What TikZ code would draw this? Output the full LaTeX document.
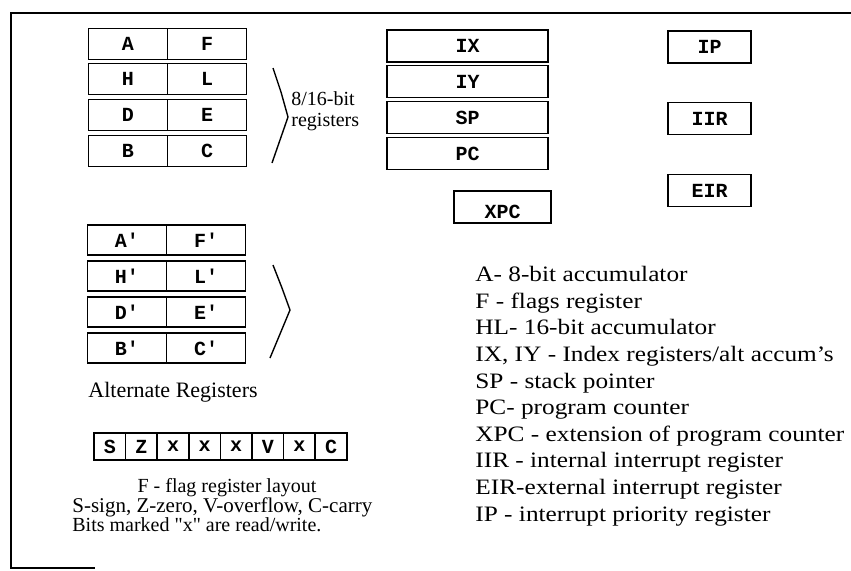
\documentclass[tikz,border=0pt]{standalone}
\usepackage{fontspec}
\setmainfont{Liberation Serif}
\setmonofont{Liberation Mono}
\newfontfamily\scanfont[FakeStretch=1.15]{Liberation Serif}
\newfontfamily\plainfont{Liberation Serif}
\usetikzlibrary{positioning}

\begin{document}
\begin{tikzpicture}[x=0.5pt,y=-0.5pt,
  reg/.style={draw,line width=0.8pt,inner sep=0pt,font=\fontsize{10}{11}\selectfont\ttfamily\bfseries},
  pair/.style={reg,minimum width=39.5pt,minimum height=15.5pt},
  wide/.style={reg,minimum width=80.5pt,minimum height=16pt},
  small/.style={reg,minimum width=41.5pt,minimum height=16pt},
  bit/.style={reg,minimum width=15.8pt,minimum height=13.5pt},
  txt/.style={inner sep=0pt,font=\fontsize{11}{13.3}\selectfont}]
\useasboundingbox (0,0) rectangle (851,570);
% frame
\draw[line width=0.8pt] (851,13) -- (11,13) -- (11,568) -- (95,568);

% main registers
\node[pair] (a) at (128,44) {A};
\node[pair] (f) at (207,44) {F};
\node[pair] (h) at (128,79) {H};
\node[pair] (l) at (207,79) {L};
\node[pair] (d) at (128,115) {D};
\node[pair] (e) at (207,115) {E};
\node[pair] (b) at (128,151) {B};
\node[pair] (c) at (207,151) {C};
\draw[line width=0.7pt] (273,68) -- (281,92) -- (288,117) -- (280,140) -- (272,163);
\node[txt,anchor=west,align=left,font=\fontsize{10}{10.5}\selectfont] (main) at (291,111) {8/16-bit\\registers};

% index and pointer registers
\node[wide] (ix) at (467.5,46) {IX};
\node[wide] (iy) at (467.5,81.5) {IY};
\node[wide] (sp) at (467.5,117.5) {SP};
\node[wide] (pc) at (467.5,153.5) {PC};
\node[reg,minimum width=48.5pt,minimum height=16pt,label={[reg,draw=none,anchor=south,inner sep=2pt]south:XPC}] (xpc) at (502.5,207) {};

% interrupt registers
\node[small] (ip) at (709.5,47) {IP};
\node[small] (iir) at (709.5,118.5) {IIR};
\node[small] (eir) at (709.5,190.5) {EIR};

% alternate registers
\node[pair,minimum height=15pt] (a2) at (127,240) {A'};
\node[pair,minimum height=15pt] (f2) at (206,240) {F'};
\node[pair,minimum height=15pt] (h2) at (127,276) {H'};
\node[pair,minimum height=15pt] (l2) at (206,276) {L'};
\node[pair,minimum height=15pt] (d2) at (127,312) {D'};
\node[pair,minimum height=15pt] (e2) at (206,312) {E'};
\node[pair,minimum height=15pt] (b2) at (127,348) {B'};
\node[pair,minimum height=15pt] (c2) at (206,348) {C'};
\draw[line width=0.7pt] (273,265) -- (282,288) -- (290,310) -- (280,334) -- (270,358);
\node[txt] (alt) at (173,392) {Alternate Registers};

% flag register
\node[bit] (s) at (109.8,446.5) {S};
\node[bit] (z) at (141.4,446.5) {Z};
\node[bit] (x1) at (173,446.5) {x};
\node[bit] (x2) at (204.6,446.5) {x};
\node[bit] (x3) at (236.2,446.5) {x};
\node[bit] (v) at (267.8,446.5) {V};
\node[bit] (x4) at (299.4,446.5) {x};
\node[bit] (cy) at (331,446.5) {C};
\node[txt,font=\fontsize{10}{10}\selectfont] (flag) at (227,488) {F - flag register layout};
\node[txt,anchor=west,font=\fontsize{10.5}{10}\selectfont] (bits) at (72,507) {S-sign, Z-zero, V-overflow, C-carry};
\node[txt,anchor=west,font=\fontsize{10}{10}\selectfont\plainfont] (rw) at (72,525) {Bits marked "x" are read/write.};

% legend
\node[txt,anchor=north west,align=left,font=\fontsize{11}{13.3}\selectfont\scanfont] (key) at (475,266) {A- 8-bit accumulator\\
F - flags register\\
HL- 16-bit accumulator\\
IX, IY - Index registers/alt accum’s\\
SP - stack pointer\\
PC- program counter\\
XPC - extension of program counter\\
IIR - internal interrupt register\\
EIR-external interrupt register\\
IP - interrupt priority register};
\end{tikzpicture}
\end{document}
